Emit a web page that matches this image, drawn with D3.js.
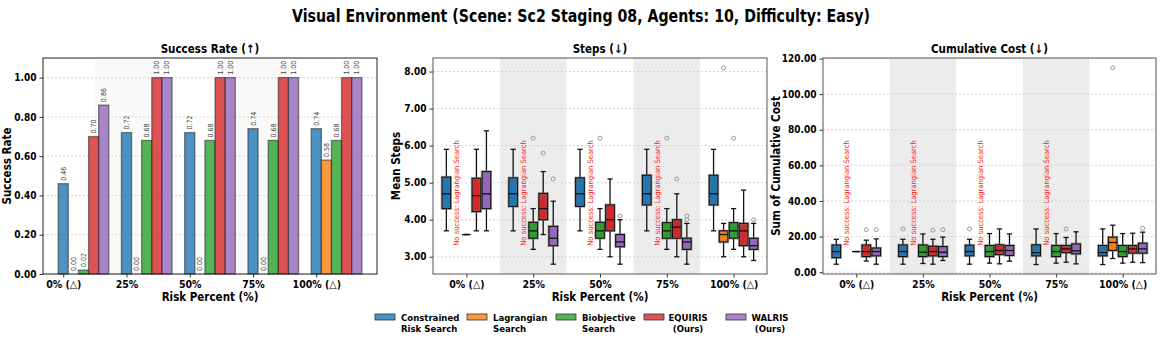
<!DOCTYPE html>
<html>
<head>
<meta charset="utf-8">
<script src="https://cdn.jsdelivr.net/npm/d3@7"></script>
<style>
  body { margin: 0; background: #fff; }
  svg text { font-family: "Liberation Sans Narrow", "DejaVu Sans Condensed", "Roboto Condensed", sans-serif; }
</style>
</head>
<body>
<div id="chart"></div>
<script>
// Categories and methods
var categories = ["0% (\u25B3)", "25%", "50%", "75%", "100% (\u25B3)"];
var methodNames = ["Constrained Risk Search", "Lagrangian Search", "Biobjective Search", "EQUIRIS (Ours)", "WALRIS (Ours)"];
var legendLines = [["Constrained", "Risk Search"], ["Lagrangian", "Search"], ["Biobjective", "Search"], ["EQUIRIS", "(Ours)"], ["WALRIS", "(Ours)"]];
var colors = ["#1f77b4", "#ff7f0e", "#2ca02c", "#d62728", "#9467bd"];

// Success rate per method (one value per risk percent)
var successConstrained = [0.46, 0.72, 0.72, 0.74, 0.74];
var successLagrangian = [0.00, 0.00, 0.00, 0.00, 0.58];
var successBiobjective = [0.02, 0.68, 0.68, 0.68, 0.68];
var successEquiris = [0.70, 1.00, 1.00, 1.00, 1.00];
var successWalris = [0.86, 1.00, 1.00, 1.00, 1.00];

// Steps box stats: [min, q1, median, q3, max, outliers], null = no success
var stepsConstrained = [[3.7, 4.3, 4.7, 5.15, 5.9, []], [3.7, 4.36, 4.7, 5.13, 5.9, []], [3.7, 4.36, 4.7, 5.13, 5.9, []], [3.7, 4.4, 4.7, 5.2, 5.9, []], [3.7, 4.4, 4.7, 5.2, 5.9, []]];
var stepsLagrangian = [null, null, null, null, [3.0, 3.4, 3.6, 3.7, 3.9, [8.1]]];
var stepsBiobjective = [[3.6, 3.6, 3.6, 3.6, 3.6, []], [3.2, 3.5, 3.7, 3.93, 4.3, [6.2]], [3.2, 3.5, 3.7, 3.93, 4.3, [6.2]], [3.2, 3.5, 3.7, 3.92, 4.3, [6.2]], [3.2, 3.5, 3.7, 3.92, 4.3, [6.2]]];
var stepsEquiris = [[3.7, 4.22, 4.65, 5.12, 5.9, []], [3.6, 4.0, 4.3, 4.71, 5.3, [5.8]], [3.0, 3.7, 4.0, 4.4, 5.1, []], [3.0, 3.5, 3.8, 4.0, 4.7, [5.1]], [3.0, 3.3, 3.7, 3.9, 4.8, []]];
var stepsWalris = [[3.7, 4.3, 4.7, 5.3, 6.4, []], [2.8, 3.3, 3.5, 3.82, 4.5, [5.1]], [2.8, 3.27, 3.4, 3.6, 4.0, [4.1]], [2.8, 3.2, 3.4, 3.5, 3.9, [4.0, 4.1]], [2.9, 3.2, 3.3, 3.5, 3.9, [4.0]]];

// Cumulative cost box stats
var costConstrained = [[4.5, 8.2, 11.6, 15.3, 18.5, []], [4.5, 8.8, 11.6, 15.3, 18.5, [24.3]], [4.5, 9.2, 11.6, 15.2, 18.5, [24.3]], [4.3, 9.2, 11.0, 15.4, 24.3, []], [4.3, 9.2, 11.0, 15.0, 24.3, []]];
var costLagrangian = [null, null, null, null, [7.7, 12.2, 16.7, 19.7, 26.4, [114.8]]];
var costBiobjective = [[11.6, 11.6, 11.6, 11.6, 11.6, []], [4.9, 8.8, 11.2, 15.3, 21.5, []], [5.1, 8.8, 11.6, 15.0, 21.7, []], [5.1, 8.8, 11.6, 15.0, 21.7, []], [5.1, 8.8, 11.6, 15.0, 21.7, []]];
var costEquiris = [[6.3, 8.8, 11.6, 15.3, 18.0, [23.9]], [4.5, 9.2, 11.6, 14.6, 18.5, [23.6]], [4.7, 9.9, 12.2, 15.4, 24.3, []], [5.6, 11.0, 13.1, 15.0, 19.5, [24.3]], [5.6, 10.7, 13.1, 15.0, 21.9, []]];
var costWalris = [[4.5, 9.2, 11.6, 13.6, 18.7, [23.9]], [6.6, 8.8, 11.2, 14.4, 19.7, [23.9]], [6.2, 9.4, 12.2, 15.0, 21.5, []], [4.7, 10.3, 12.0, 15.9, 22.7, []], [5.4, 10.7, 13.1, 16.3, 22.5, [24.7]]];

var successData = [successConstrained, successLagrangian, successBiobjective, successEquiris, successWalris];
var stepsData = [stepsConstrained, stepsLagrangian, stepsBiobjective, stepsEquiris, stepsWalris];
var costData = [costConstrained, costLagrangian, costBiobjective, costEquiris, costWalris];

var W = 1162, H = 343;
var svg = d3.select("#chart").append("svg").attr("width", W).attr("height", H);

// Title
svg.append("text")
  .attr("x", W / 2).attr("y", 22)
  .attr("text-anchor", "middle")
  .attr("textLength", 578).attr("lengthAdjust", "spacingAndGlyphs")
  .style("font-size", "18px").style("font-weight", "bold")
  .text("Visual Environment (Scene: Sc2 Staging 08, Agents: 10, Difficulty: Easy)");

var plotTop = 58, plotH = 216;

function makePanel(left, width, title, yLabel, yLabelX, xDomain, yDomain, yTicks) {
  var g = svg.append("g").attr("transform", "translate(" + left + "," + plotTop + ")");
  var x = d3.scaleLinear().domain(xDomain).range([0, width]);
  var y = d3.scaleLinear().domain(yDomain).range([plotH, 0]);

  g.append("text")
    .attr("x", width / 2).attr("y", -5)
    .attr("text-anchor", "middle")
    .style("font-size", "11.5px").style("font-weight", "bold")
    .text(title);

  g.append("text")
    .attr("transform", "translate(" + yLabelX + "," + (plotH / 2) + ") rotate(-90)")
    .attr("text-anchor", "middle")
    .style("font-size", "11.5px").style("font-weight", "bold")
    .text(yLabel);

  g.append("text")
    .attr("x", width / 2).attr("y", plotH + 27)
    .attr("text-anchor", "middle")
    .style("font-size", "11.5px").style("font-weight", "bold")
    .text("Risk Percent (%)");

  // y grid
  g.append("g").selectAll("line").data(yTicks).enter().append("line")
    .attr("x1", 0).attr("x2", width)
    .attr("y1", function (d) { return y(d); }).attr("y2", function (d) { return y(d); })
    .attr("stroke", "#ccc").attr("stroke-width", 0.8).attr("stroke-dasharray", "2,2");

  var yAxis = g.append("g")
    .call(d3.axisLeft(y).tickValues(yTicks).tickFormat(d3.format(".2f")).tickSize(3.5).tickPadding(3));
  yAxis.select(".domain").remove();
  yAxis.selectAll("text").style("font-size", "10px").style("font-weight", "bold").attr("fill", "#000");
  yAxis.selectAll("line").attr("stroke", "#333");

  var xAxis = g.append("g").attr("transform", "translate(0," + plotH + ")")
    .call(d3.axisBottom(x).tickValues(d3.range(categories.length)).tickFormat(function (d) { return categories[d]; }).tickSize(3.5).tickPadding(3));
  xAxis.select(".domain").remove();
  xAxis.selectAll("text").style("font-size", "10.5px").style("font-weight", "bold").attr("fill", "#000");
  xAxis.selectAll("line").attr("stroke", "#333");

  return { g: g, x: x, y: y, width: width };
}

function frame(p, color) {
  p.g.append("rect").attr("x", 0).attr("y", 0).attr("width", p.width).attr("height", plotH)
    .attr("fill", "none").attr("stroke", color).attr("stroke-width", 1);
}

function bands(p, fill) {
  [1, 3].forEach(function (i) {
    p.g.insert("rect", ":first-child")
      .attr("x", p.x(i - 0.5)).attr("y", 0)
      .attr("width", p.x(i + 0.5) - p.x(i - 0.5)).attr("height", plotH)
      .attr("fill", fill);
  });
}

// ---- Success rate bars
var barW = 0.16;
var p1 = makePanel(43, 334, "Success Rate (\u2191)", "Success Rate", -32, [-0.32, 4.96], [0, 1.1], [0, 0.2, 0.4, 0.6, 0.8, 1.0]);
bands(p1, "#fafafa");
successData.forEach(function (vals, j) {
  var gb = p1.g.append("g");
  gb.selectAll("rect").data(vals).enter().append("rect")
    .attr("x", function (d, i) { return p1.x(i + j * barW - barW / 2); })
    .attr("y", function (d) { return p1.y(d); })
    .attr("width", p1.x(barW) - p1.x(0))
    .attr("height", function (d) { return plotH - p1.y(d); })
    .attr("fill", colors[j]).attr("fill-opacity", 0.8)
    .attr("stroke", "#222").attr("stroke-opacity", 0.55).attr("stroke-width", 1.3);
  gb.selectAll("text").data(vals).enter().append("text")
    .attr("transform", function (d, i) {
      return "translate(" + (p1.x(i + j * barW) + 2.5) + "," + (p1.y(d) - 3) + ") rotate(-90)";
    })
    .style("font-size", "7px").attr("fill", "#444")
    .text(function (d) { return d.toFixed(2); });
});
frame(p1, "#222");

// ---- Box plots
var boxOff = 0.15, boxW = 0.13;
function drawBoxes(p, data) {
  data.forEach(function (stats, j) {
    var gb = p.g.append("g");
    stats.forEach(function (s, i) {
      var cx = i + (j - 2) * boxOff;
      if (s === null) {
        p.g.append("text")
          .attr("transform", "translate(" + (p.x(cx) + 3) + "," + (plotH * 0.625) + ") rotate(-90)")
          .attr("text-anchor", "middle")
          .style("font-size", "7.5px").attr("fill", "#ff2020")
          .text("No success: Lagrangian Search");
        return;
      }
      var xl = p.x(cx - boxW / 2), xr = p.x(cx + boxW / 2), xc = p.x(cx);
      var cw = (xr - xl) * 0.3;
      // whiskers
      gb.append("line").attr("x1", xc).attr("x2", xc).attr("y1", p.y(s[0])).attr("y2", p.y(s[1]))
        .attr("stroke", "#111").attr("stroke-width", 1.3);
      gb.append("line").attr("x1", xc).attr("x2", xc).attr("y1", p.y(s[3])).attr("y2", p.y(s[4]))
        .attr("stroke", "#111").attr("stroke-width", 1.3);
      [s[0], s[4]].forEach(function (v) {
        gb.append("line").attr("x1", xc - cw).attr("x2", xc + cw).attr("y1", p.y(v)).attr("y2", p.y(v))
          .attr("stroke", "#111").attr("stroke-width", 1.3);
      });
      // box
      gb.append("rect").attr("x", xl).attr("y", p.y(s[3]))
        .attr("width", xr - xl).attr("height", Math.max(0, p.y(s[1]) - p.y(s[3])))
        .attr("fill", colors[j])
        .attr("stroke", "#777").attr("stroke-opacity", 0.6).attr("stroke-width", 2.6);
      gb.append("rect").attr("x", xl).attr("y", p.y(s[3]))
        .attr("width", xr - xl).attr("height", Math.max(0, p.y(s[1]) - p.y(s[3])))
        .attr("fill", "none").attr("stroke", "#111").attr("stroke-width", 1.1);
      gb.append("line").attr("x1", xl).attr("x2", xr).attr("y1", p.y(s[2])).attr("y2", p.y(s[2]))
        .attr("stroke", "#111").attr("stroke-width", 1.3);
      s[5].forEach(function (o) {
        gb.append("circle").attr("cx", xc).attr("cy", p.y(o)).attr("r", 2)
          .attr("fill", "none").attr("stroke", "#999").attr("stroke-width", 1);
      });
    });
  });
}

var p2 = makePanel(433, 334, "Steps (\u2193)", "Mean Steps", -33, [-0.5, 4.5], [2.535, 8.365], [3, 4, 5, 6, 7, 8]);
bands(p2, "#ececec");
drawBoxes(p2, stepsData);
frame(p2, "#555");

var p3 = makePanel(823, 333, "Cumulative Cost (\u2193)", "Sum of Cumulative Cost", -43, [-0.5, 4.5], [-1.0, 120.3], [0, 20, 40, 60, 80, 100, 120]);
bands(p3, "#ececec");
drawBoxes(p3, costData);
frame(p3, "#555");

// ---- Legend
var legendX = [375, 467, 556, 644, 726];
var lg = svg.append("g");
legendLines.forEach(function (lines, j) {
  var item = lg.append("g").attr("transform", "translate(" + legendX[j] + ",314)");
  item.append("rect").attr("x", 0).attr("y", 0).attr("width", 20).attr("height", 6)
    .attr("fill", colors[j]).attr("fill-opacity", 0.8).attr("stroke", "#333").attr("stroke-width", 0.8);
  var centered = j >= 3;
  var t = item.append("text").style("font-size", "9.5px").style("font-weight", "bold");
  lines.forEach(function (ln, k) {
    t.append("tspan").attr("x", centered ? 44 : 26).attr("y", 7 + k * 11)
      .attr("text-anchor", centered ? "middle" : "start").text(ln);
  });
});
</script>
</body>
</html>
